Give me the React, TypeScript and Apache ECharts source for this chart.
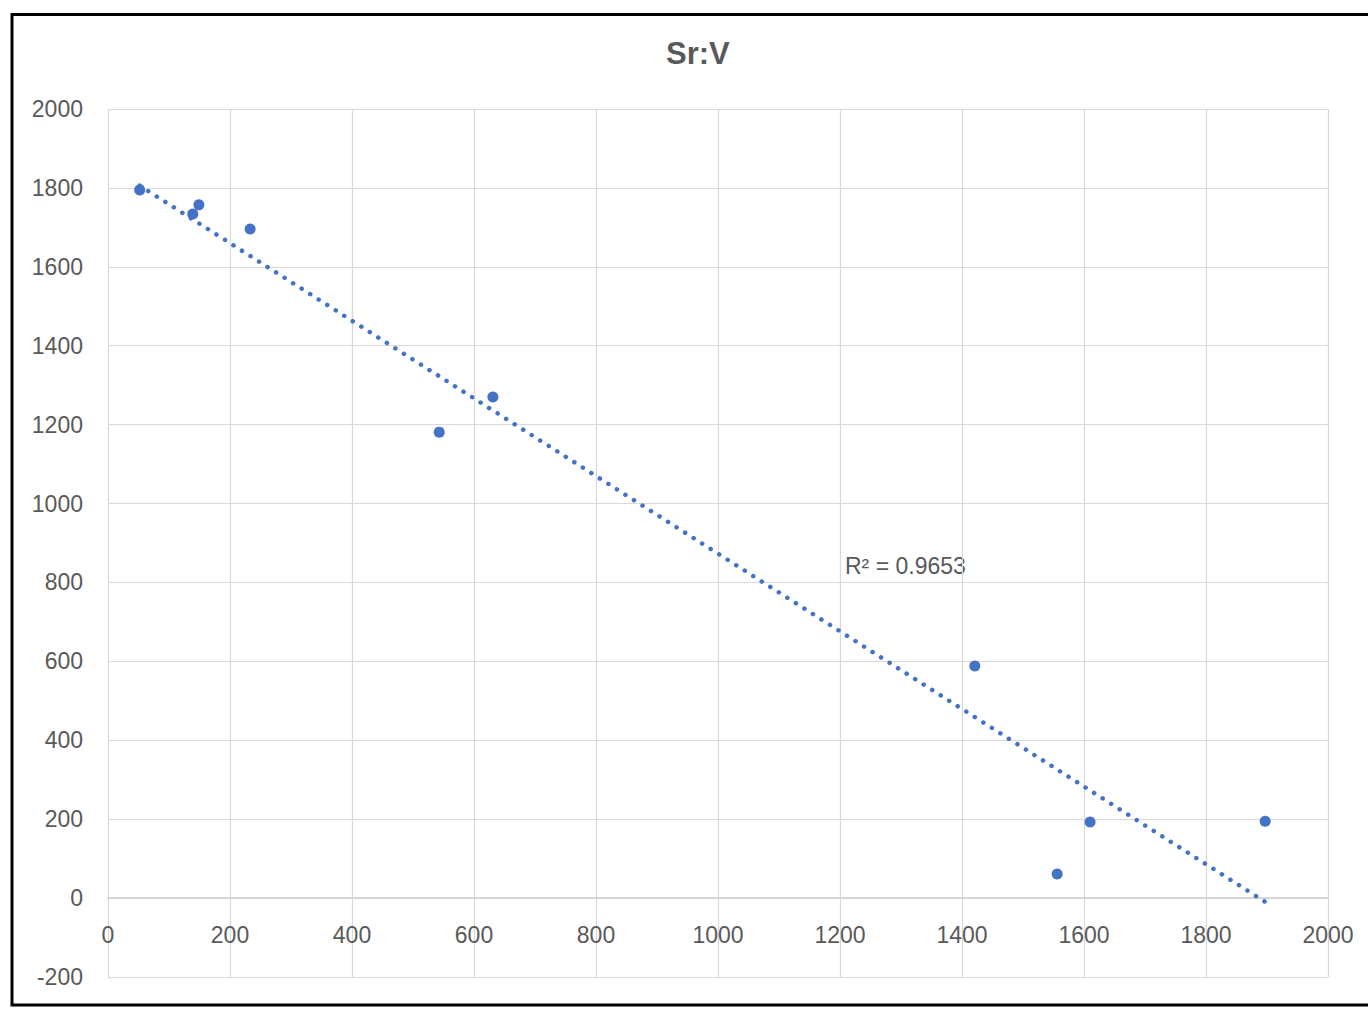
import React, { useEffect, useRef } from "react";
import * as echarts from "echarts";

const xValues = [52, 139, 149, 233, 543, 631, 1421, 1556, 1610, 1897];
const yValues = [1795, 1734, 1757, 1696, 1181, 1270, 588, 61, 193, 195];
const chartTitle = "Sr:V";
const r2Label = "R² = 0.9653";

function fitLine(xs: number[], ys: number[]) {
  const n = xs.length;
  const mx = xs.reduce((a, b) => a + b, 0) / n;
  const my = ys.reduce((a, b) => a + b, 0) / n;
  let sxy = 0, sxx = 0;
  for (let i = 0; i < n; i++) {
    sxy += (xs[i] - mx) * (ys[i] - my);
    sxx += (xs[i] - mx) * (xs[i] - mx);
  }
  const slope = sxy / sxx;
  const intercept = my - slope * mx;
  const x0 = Math.min(...xs);
  const x1 = Math.max(...xs);
  return [
    [x0, slope * x0 + intercept],
    [x1, slope * x1 + intercept],
  ];
}

export default function App() {
  const ref = useRef<HTMLDivElement>(null);
  useEffect(() => {
    if (!ref.current) return;
    const chart = echarts.init(ref.current, undefined, { renderer: "svg" });
    const font = "'Liberation Sans', Arial, sans-serif";
    const labelColor = "#595959";
    const gridColor = "#d9d9d9";
    const points = xValues.map((x, i) => [x, yValues[i]]);
    const gridTop = 109;
    const gridBottom = 32;
    const yMin = -200;
    const yMax = 2000;
    const plotH = 1009 - gridTop - gridBottom;
    const zeroOffset = -plotH * (0 - yMin) / (yMax - yMin);
    chart.setOption({
      animation: false,
      backgroundColor: "#ffffff",
      title: {
        text: chartTitle,
        left: 661,
        top: 33,
        textStyle: { fontFamily: font, fontSize: 31, fontWeight: "bold", color: labelColor },
      },
      grid: { left: 108, right: 40, top: gridTop, bottom: gridBottom, containLabel: false, outerBoundsMode: "none" },
      xAxis: {
        type: "value",
        min: 0,
        max: 2000,
        interval: 200,
        position: "bottom",
        offset: zeroOffset,
        axisLine: { show: true, onZero: false, lineStyle: { color: "#cfcfcf", width: 1.5 } },
        axisTick: { show: false },
        axisLabel: { fontFamily: font, fontSize: 23, color: labelColor, margin: 25, formatter: (v: number) => String(v) },
        splitLine: { show: true, lineStyle: { color: gridColor, width: 1.2 } },
      },
      yAxis: {
        type: "value",
        min: yMin,
        max: yMax,
        interval: 200,
        axisLine: { show: false },
        axisTick: { show: false },
        axisLabel: { fontFamily: font, fontSize: 23, color: labelColor, margin: 25, formatter: (v: number) => String(v) },
        splitLine: { show: true, lineStyle: { color: gridColor, width: 1.2 } },
      },
      series: [
        {
          type: "line",
          data: fitLine(xValues, yValues),
          showSymbol: false,
          symbol: "none",
          lineStyle: { color: "#4472C4", width: 4.5, type: [0.1, 10], cap: "round" },
          z: 2,
        },
        {
          type: "scatter",
          data: points,
          symbolSize: 11,
          itemStyle: { color: "#4472C4", opacity: 1 },
          z: 3,
        },
      ],
      graphic: [
        {
          type: "text",
          left: 845,
          top: 554,
          style: { text: r2Label, fontFamily: font, fontSize: 23, fill: labelColor },
        },
        {
          type: "rect",
          shape: { x: 12, y: 14.5, width: 1370, height: 990.5 },
          style: { fill: "none", stroke: "#000000", lineWidth: 3 },
          silent: true,
        },
      ],
    });
    return () => chart.dispose();
  }, []);
  return (
    <div
      ref={ref}
      style={{ position: "fixed", left: 0, top: 0, width: 1368, height: 1009 }}
    />
  );
}
